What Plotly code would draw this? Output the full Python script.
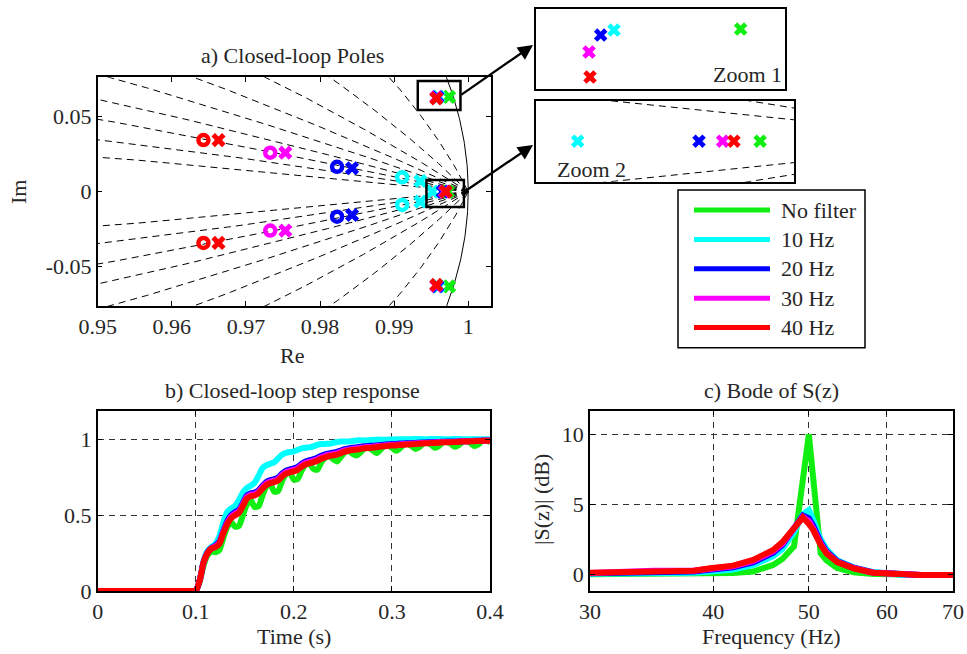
import numpy as np
import plotly.graph_objects as go

W, H = 967, 654
FONT = "Liberation Serif, Times New Roman, serif"
FS = 22
TXT = "#262626"

# ---------------- series ----------------
series_names = ["No filter", "10 Hz", "20 Hz", "30 Hz", "40 Hz"]
series_colors = ["#11ee11", "#00ffff", "#0000ff", "#ff00ff", "#ff0000"]

# ---------------- a) closed-loop poles / zeros ----------------
pole_re = {
    "No filter": [0.997421, 0.997421, 0.99726],
    "10 Hz": [0.995974, 0.995974, 0.99355, 0.99355, 0.995176],
    "20 Hz": [0.995822, 0.995822, 0.98432, 0.98432, 0.996562],
    "30 Hz": [0.995689, 0.995689, 0.97531, 0.97531, 0.996832],
    "40 Hz": [0.995700, 0.995700, 0.96630, 0.96630, 0.996961],
}
pole_im = {
    "No filter": [0.063256, -0.063256, 0.0],
    "10 Hz": [0.063235, -0.063235, 0.0071, -0.0067, 0.0],
    "20 Hz": [0.063131, -0.063131, 0.0156, -0.0156, 0.0],
    "30 Hz": [0.062777, -0.062777, 0.0260, -0.0260, 0.0],
    "40 Hz": [0.062256, -0.062256, 0.0344, -0.0342, 0.0],
}
zero_re = {
    "No filter": [],
    "10 Hz": [0.99108, 0.99108],
    "20 Hz": [0.98230, 0.98230],
    "30 Hz": [0.97328, 0.97328],
    "40 Hz": [0.96427, 0.96427],
}
zero_im = {
    "No filter": [],
    "10 Hz": [0.0096, -0.0089],
    "20 Hz": [0.0166, -0.0167],
    "30 Hz": [0.0260, -0.0260],
    "40 Hz": [0.0344, -0.0342],
}
zgrid_zeta = [0.1, 0.2, 0.3, 0.4, 0.5, 0.6, 0.7, 0.8, 0.9]

# ---------------- b) step response ----------------
t_step = [0.0, 0.05, 0.096] + [round(0.1 + 0.004 * i, 3) for i in range(76)]
step = {
    "No filter": [0.0, 0.0, 0.0,
        0.00, 0.06, 0.17, 0.235, 0.26, 0.255, 0.27, 0.35, 0.42, 0.455,
        0.425, 0.43, 0.50, 0.57, 0.60, 0.555, 0.56, 0.63, 0.69, 0.705,
        0.655, 0.66, 0.725, 0.77, 0.78, 0.735, 0.74, 0.795, 0.835, 0.84,
        0.805, 0.80, 0.85, 0.88, 0.89, 0.87, 0.855, 0.885, 0.915, 0.925,
        0.905, 0.895, 0.915, 0.94, 0.945, 0.93, 0.91, 0.93, 0.955, 0.96,
        0.945, 0.925, 0.94, 0.965, 0.97, 0.958, 0.938, 0.95, 0.973, 0.977,
        0.965, 0.945, 0.957, 0.98, 0.984, 0.972, 0.952, 0.962, 0.985, 0.989,
        0.977, 0.957, 0.967, 0.989, 0.993, 0.982],
    "10 Hz": [0.0, 0.0, 0.0,
        0.00, 0.07, 0.20, 0.265, 0.29, 0.31, 0.36, 0.45, 0.52, 0.545,
        0.56, 0.60, 0.65, 0.68, 0.695, 0.715, 0.76, 0.81, 0.83, 0.84,
        0.85, 0.875, 0.90, 0.912, 0.917, 0.922, 0.932, 0.942, 0.946, 0.948,
        0.955, 0.965, 0.97, 0.971, 0.972, 0.978, 0.984, 0.986, 0.986, 0.987,
        0.99, 0.994, 0.995, 0.994, 0.995, 0.997, 0.999, 0.999, 0.998, 0.999,
        1.0, 1.002, 1.002, 1.001, 1.001, 1.002, 1.003, 1.003, 1.002, 1.002,
        1.003, 1.003, 1.003, 1.002, 1.002, 1.002, 1.003, 1.003, 1.002, 1.002,
        1.002, 1.002, 1.002, 1.001, 1.001, 1.001],
    "20 Hz": [0.0, 0.0, 0.0,
        0.00, 0.07, 0.19, 0.255, 0.285, 0.30, 0.325, 0.395, 0.46, 0.50,
        0.52, 0.535, 0.58, 0.63, 0.645, 0.65, 0.665, 0.695, 0.72, 0.732,
        0.738, 0.75, 0.775, 0.795, 0.803, 0.81, 0.82, 0.84, 0.855, 0.863,
        0.87, 0.88, 0.892, 0.902, 0.908, 0.913, 0.918, 0.927, 0.936, 0.941,
        0.945, 0.948, 0.952, 0.955, 0.957, 0.959, 0.961, 0.964, 0.966, 0.968,
        0.970, 0.971, 0.973, 0.974, 0.975, 0.976, 0.977, 0.979, 0.980, 0.981,
        0.982, 0.983, 0.984, 0.985, 0.986, 0.986, 0.987, 0.988, 0.989, 0.989,
        0.990, 0.991, 0.992, 0.993, 0.994, 0.994],
    "30 Hz": [0.0, 0.0, 0.0,
        0.00, 0.07, 0.19, 0.252, 0.282, 0.295, 0.318, 0.388, 0.45, 0.49,
        0.51, 0.525, 0.57, 0.62, 0.635, 0.64, 0.655, 0.685, 0.71, 0.722,
        0.728, 0.74, 0.765, 0.785, 0.793, 0.80, 0.81, 0.83, 0.845, 0.853,
        0.86, 0.87, 0.882, 0.892, 0.899, 0.904, 0.909, 0.918, 0.928, 0.933,
        0.937, 0.940, 0.945, 0.948, 0.950, 0.952, 0.955, 0.958, 0.961, 0.963,
        0.965, 0.966, 0.968, 0.970, 0.971, 0.972, 0.974, 0.976, 0.977, 0.978,
        0.979, 0.980, 0.982, 0.983, 0.984, 0.984, 0.985, 0.987, 0.988, 0.988,
        0.989, 0.990, 0.991, 0.992, 0.993, 0.993],
    "40 Hz": [0.0, 0.0, 0.0,
        0.00, 0.07, 0.19, 0.25, 0.28, 0.29, 0.31, 0.38, 0.44, 0.48,
        0.50, 0.515, 0.56, 0.61, 0.625, 0.63, 0.645, 0.675, 0.70, 0.712,
        0.718, 0.73, 0.755, 0.775, 0.783, 0.79, 0.80, 0.82, 0.835, 0.843,
        0.85, 0.86, 0.872, 0.882, 0.89, 0.895, 0.90, 0.91, 0.92, 0.926,
        0.93, 0.933, 0.938, 0.942, 0.944, 0.946, 0.949, 0.953, 0.956, 0.958,
        0.96, 0.961, 0.964, 0.966, 0.967, 0.968, 0.970, 0.972, 0.974, 0.975,
        0.976, 0.977, 0.979, 0.981, 0.982, 0.982, 0.983, 0.985, 0.987, 0.987,
        0.988, 0.989, 0.99, 0.991, 0.992, 0.992],
}

# ---------------- c) Bode of S(z) ----------------
f_bode = [30, 32, 34.8, 38.2, 39.7, 41.9, 43.9, 46.0, 47.0, 47.8, 48.3, 49.3,
          50.0, 50.5, 51.4, 52.1, 53.4, 55.5, 58.1, 60.9, 61.9, 65, 70]
bode = {
    "No filter": [0.0, 0.0, 0.0, 0.02, 0.05, 0.1, 0.2, 0.67, 1.1, 1.7, 2.0, 6.74,
                  10.0, 6.94, 1.5, 1.0, 0.45, 0.15, 0.02, 0.0, -0.05, -0.05, -0.05],
    "10 Hz": [0.05, 0.05, 0.08, 0.12, 0.2, 0.35, 0.65, 1.3, 1.8, 2.5, 3.0, 4.3,
              4.6, 3.9, 2.5, 1.8, 1.0, 0.5, 0.15, 0.07, -0.05, -0.05, -0.05],
    "20 Hz": [0.08, 0.1, 0.13, 0.2, 0.33, 0.5, 0.85, 1.55, 2.1, 2.8, 3.2, 4.2,
              4.0, 3.5, 2.3, 1.65, 0.95, 0.47, 0.13, 0.07, -0.05, -0.05, -0.05],
    "30 Hz": [0.1, 0.2, 0.25, 0.25, 0.4, 0.58, 0.95, 1.65, 2.2, 2.9, 3.25, 4.1,
              3.8, 3.3, 2.2, 1.55, 0.9, 0.45, 0.12, 0.07, -0.05, -0.05, -0.05],
    "40 Hz": [0.12, 0.15, 0.19, 0.26, 0.43, 0.62, 1.03, 1.74, 2.3, 2.94, 3.3, 4.06,
              3.6, 3.18, 2.1, 1.5, 0.88, 0.43, 0.12, 0.07, -0.05, -0.05, -0.05],
}

# ---------------- figure geometry (pixels) ----------------
def px_dom(a, b, total):
    return [a / total, b / total]

def py_dom(top, bottom):
    return [1 - bottom / H, 1 - top / H]

fig = go.Figure()

# z-grid (constant damping spirals) + unit circle
theta = np.linspace(0, np.pi, 2000)
zg_x, zg_y = [], []
for z in zgrid_zeta:
    m = np.tan(np.arcsin(z))
    r = np.exp(-m * theta)
    for sgn in (1, -1):
        zg_x += list(r * np.cos(theta)) + [None]
        zg_y += list(sgn * r * np.sin(theta)) + [None]
phi = np.linspace(-np.pi, np.pi, 4000)
uc_x, uc_y = np.cos(phi), np.sin(phi)

for ax_x, ax_y in (("x", "y"), ("x5", "y5")):
    fig.add_trace(go.Scatter(x=zg_x, y=zg_y, mode="lines", xaxis=ax_x, yaxis=ax_y,
                             line=dict(color="black", width=1, dash="7px,5px"),
                             hoverinfo="skip", showlegend=False))
fig.add_trace(go.Scatter(x=uc_x, y=uc_y, mode="lines", xaxis="x", yaxis="y",
                         line=dict(color="black", width=1), hoverinfo="skip",
                         showlegend=False))

# poles and zeros in main + insets
for ax_x, ax_y, xs in (("x", "y", 12.5), ("x4", "y4", 12), ("x5", "y5", 12)):
    for name, col in zip(series_names, series_colors):
        if ax_x == "x" and zero_re[name]:
            fig.add_trace(go.Scatter(x=zero_re[name], y=zero_im[name], mode="markers",
                                     xaxis=ax_x, yaxis=ax_y, showlegend=False,
                                     marker=dict(symbol="circle-open", size=10, color=col,
                                                 line=dict(width=4.5, color=col))))
        fig.add_trace(go.Scatter(x=pole_re[name], y=pole_im[name], mode="markers",
                                 xaxis=ax_x, yaxis=ax_y, showlegend=False,
                                 marker=dict(symbol="x", size=xs, color=col,
                                             line=dict(width=0))))

# step responses
for name, col in zip(series_names, series_colors):
    fig.add_trace(go.Scatter(x=t_step, y=step[name], mode="lines", xaxis="x2", yaxis="y2",
                             line=dict(color=col, width=6, shape="spline", smoothing=0.6),
                             showlegend=False))
# bode
for name, col in zip(series_names, series_colors):
    fig.add_trace(go.Scatter(x=f_bode, y=bode[name], mode="lines", xaxis="x3", yaxis="y3",
                             line=dict(color=col, width=6), showlegend=False))

tickfont = dict(family=FONT, size=FS, color=TXT)
base = dict(showline=True, linecolor="black", linewidth=1.5, mirror="ticks",
            ticks="inside", ticklen=5, tickcolor="black", tickwidth=1,
            zeroline=False, showgrid=False, tickfont=tickfont, fixedrange=True,
            automargin=False)
grid = dict(showgrid=True, gridcolor="#333333", gridwidth=1, griddash="6px,5px")
inset = dict(showline=True, linecolor="black", linewidth=1.8, mirror=True,
             ticks="", showticklabels=False, showgrid=False, zeroline=False,
             automargin=False)

x_main_ticks = [0.95, 0.96, 0.97, 0.98, 0.99, 1.0]
y_main_ticks = [-0.05, 0, 0.05]

fig.update_layout(
    width=W, height=H, margin=dict(l=0, r=0, t=0, b=0, autoexpand=False),
    paper_bgcolor="white", plot_bgcolor="white", showlegend=False,
    font=dict(family=FONT, size=FS, color=TXT),
    xaxis=dict(base, domain=px_dom(97.7, 491, W), range=[0.95, 1.00307], anchor="y",
               tickvals=x_main_ticks, ticktext=["0.95", "0.96", "0.97", "0.98", "0.99", "1"]),
    yaxis=dict(base, domain=py_dom(77.3, 306), range=[-0.0763, 0.0763], anchor="x",
               tickvals=y_main_ticks, ticktext=["-0.05", "0", "0.05"]),
    xaxis2=dict(base, **grid, domain=px_dom(97.7, 490, W), range=[0, 0.4], anchor="y2",
                tickvals=[0, 0.1, 0.2, 0.3, 0.4], ticktext=["0", "0.1", "0.2", "0.3", "0.4"]),
    yaxis2=dict(base, **grid, domain=py_dom(410.7, 591), range=[0, 1.19], anchor="x2",
                tickvals=[0, 0.5, 1], ticktext=["0", "0.5", "1"]),
    xaxis3=dict(base, **grid, type="log", domain=px_dom(590, 953, W),
                range=[np.log10(30), np.log10(70)], anchor="y3",
                tickvals=[30, 40, 50, 60, 70], ticktext=["30", "40", "50", "60", "70"]),
    yaxis3=dict(base, **grid, domain=py_dom(410.7, 591), range=[-1.19, 11.69], anchor="x3",
                tickvals=[0, 5, 10], ticktext=["0", "5", "10"]),
    xaxis4=dict(inset, domain=px_dom(536, 785, W), range=[0.995083, 0.997928], anchor="y4"),
    yaxis4=dict(inset, domain=py_dom(9.3, 89.3), range=[0.062, 0.063667], anchor="x4"),
    xaxis5=dict(inset, domain=px_dom(536, 794, W), range=[0.9947, 0.997647], anchor="y5"),
    yaxis5=dict(inset, domain=py_dom(100.7, 181.7), range=[-0.002141, 0.002141], anchor="x5"),
)

shapes = []
# zoom rectangles in the pole map
shapes.append(dict(type="rect", xref="x", yref="y", x0=0.99319, x1=0.99895,
                   y0=0.0545, y1=0.0738, line=dict(color="black", width=2.5)))
shapes.append(dict(type="rect", xref="x", yref="y", x0=0.99436, x1=0.99941,
                   y0=-0.0102, y1=0.0078, line=dict(color="black", width=2.5)))
# legend box
shapes.append(dict(type="rect", xref="paper", yref="paper", x0=678 / W, x1=865 / W,
                   y0=1 - 347.7 / H, y1=1 - 190 / H, fillcolor="white",
                   line=dict(color="black", width=1.5), layer="above"))
annotations = []
for i, (name, col) in enumerate(zip(series_names, series_colors)):
    yy = 1 - (210 + 29.4 * i) / H
    shapes.append(dict(type="line", xref="paper", yref="paper", x0=694 / W, x1=770 / W,
                       y0=yy, y1=yy, line=dict(color=col, width=5)))
    annotations.append(dict(text=name, x=779 / W, y=yy, xref="paper", yref="paper",
                            xanchor="left", yanchor="middle", showarrow=False,
                            font=dict(family=FONT, size=FS, color=TXT)))

def label(text, x, y, angle=0, xanchor="center"):
    annotations.append(dict(text=text, x=x / W, y=1 - y / H, xref="paper", yref="paper",
                            xanchor=xanchor, yanchor="middle", showarrow=False,
                            textangle=angle, font=dict(family=FONT, size=FS, color=TXT)))

label("a) Closed-loop Poles", 292.5, 55.5)
label("b) Closed-loop step response", 292, 390)
label("c) Bode of S(z)", 771, 390)
label("Re", 292, 355.5)
label("Im", 18, 192, angle=-90)
label("Time (s)", 294, 636)
label("Frequency (Hz)", 771, 636)
label("|S(z)| (dB)", 541, 500, angle=-90)
label("Zoom 1", 784, 75, xanchor="right")
label("Zoom 2", 555, 170, xanchor="left")

# arrows from zoom rectangles to insets
for (hx, hy, tx, ty) in ((533, 45, 460, 95.7), (533, 145, 464, 192)):
    annotations.append(dict(text="", x=hx / W, y=1 - hy / H, xref="paper", yref="paper",
                            ax=tx - hx, ay=ty - hy, showarrow=True, arrowhead=2,
                            arrowsize=1.3, arrowwidth=2.3, arrowcolor="black"))

fig.update_layout(shapes=shapes, annotations=annotations)
fig.write_html("out.html")
